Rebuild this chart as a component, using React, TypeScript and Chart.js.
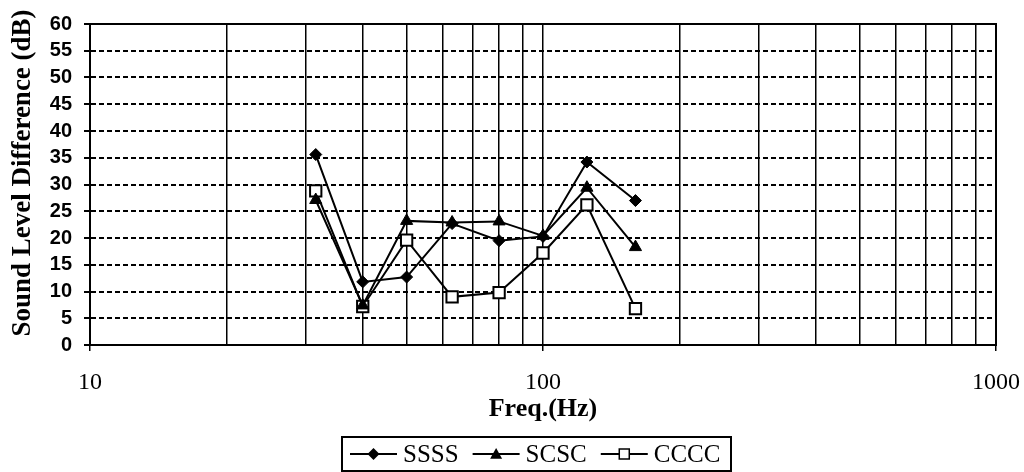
import React, { useEffect, useRef } from "react";
import { Chart, registerables } from "chart.js";

Chart.register(...registerables);

const frequencies = [31.5, 40, 50, 63, 80, 100, 125, 160];
const seriesNames = ["SSSS", "SCSC", "CCCC"];
const ssssValues = [35.6, 11.8, 12.7, 22.7, 19.5, 20.3, 34.2, 27.0];
const scscValues = [27.1, 7.4, 23.2, 22.9, 23.1, 20.4, 29.4, 18.3];
const ccccValues = [28.8, 7.2, 19.6, 9.0, 9.8, 17.2, 26.2, 6.8];
const xGridValues = [10, 20, 30, 40, 50, 60, 70, 80, 90, 100, 200, 300, 400, 500, 600, 700, 800, 900, 1000];
const xLabeledTicks = [10, 100, 1000];
const yTickValues = [0, 5, 10, 15, 20, 25, 30, 35, 40, 45, 50, 55, 60];
const xTitle = "Freq.(Hz)";
const yTitle = "Sound Level Difference (dB)";

const SERIF = '"Liberation Serif", "Times New Roman", serif';
const SANS = '"Liberation Sans", Arial, sans-serif';

function drawMarker(ctx: CanvasRenderingContext2D, style: string, x: number, y: number) {
  ctx.save();
  ctx.lineWidth = 1.5;
  ctx.strokeStyle = "#000";
  ctx.setLineDash([]);
  if (style === "rectRot") {
    const r = 6;
    ctx.fillStyle = "#000";
    ctx.beginPath();
    ctx.moveTo(x, y - r);
    ctx.lineTo(x + r, y);
    ctx.lineTo(x, y + r);
    ctx.lineTo(x - r, y);
    ctx.closePath();
    ctx.fill();
  } else if (style === "triangle") {
    const r = 6;
    ctx.fillStyle = "#000";
    ctx.beginPath();
    ctx.moveTo(x, y - r);
    ctx.lineTo(x + r, y + r * 0.8);
    ctx.lineTo(x - r, y + r * 0.8);
    ctx.closePath();
    ctx.fill();
  } else {
    const s = 10;
    ctx.fillStyle = "#fff";
    ctx.fillRect(x - s / 2, y - s / 2, s, s);
    ctx.strokeRect(x - s / 2, y - s / 2, s, s);
  }
  ctx.restore();
}

const frameAndLegend = {
  id: "frameAndLegend",
  afterDraw(chart: any) {
    const { ctx, chartArea } = chart;
    ctx.save();
    ctx.setLineDash([]);
    ctx.strokeStyle = "#000";
    ctx.lineWidth = 2;
    ctx.strokeRect(chartArea.left, chartArea.top, chartArea.right - chartArea.left, chartArea.bottom - chartArea.top);

    // y-axis title
    ctx.save();
    ctx.translate(23, 173);
    ctx.rotate(-Math.PI / 2);
    ctx.font = `bold 27px ${SERIF}`;
    ctx.fillStyle = "#000";
    ctx.textAlign = "center";
    ctx.textBaseline = "middle";
    ctx.fillText(yTitle, 0, 0);
    ctx.restore();

    // legend
    const boxL = 342, boxT = 437, boxR = 731, boxB = 471;
    ctx.strokeRect(boxL, boxT, boxR - boxL, boxB - boxT);
    ctx.font = `25px ${SERIF}`;
    ctx.fillStyle = "#000";
    ctx.textBaseline = "middle";
    ctx.textAlign = "left";
    const cy = (boxT + boxB) / 2;
    let x = boxL + 8;
    chart.data.datasets.forEach((ds: any) => {
      const lineLen = 47;
      ctx.lineWidth = 2;
      ctx.beginPath();
      ctx.moveTo(x, cy);
      ctx.lineTo(x + lineLen, cy);
      ctx.stroke();
      drawMarker(ctx, ds.pointStyle, x + lineLen / 2, cy);
      const tx = x + lineLen + 6;
      ctx.fillText(ds.label, tx, cy + 1);
      x = tx + ctx.measureText(ds.label).width + 14;
    });
    ctx.restore();
  },
};

export default function App() {
  const canvasRef = useRef<HTMLCanvasElement | null>(null);

  useEffect(() => {
    if (!canvasRef.current) return;
    const mk = (vals: number[]) => frequencies.map((f, i) => ({ x: f, y: vals[i] }));
    const chart = new Chart(canvasRef.current, {
      type: "line",
      data: {
        datasets: [
          {
            label: seriesNames[0],
            data: mk(ssssValues),
            borderColor: "#000",
            borderWidth: 2,
            pointStyle: "rectRot",
            pointRadius: 6,
            pointBackgroundColor: "#000",
            pointBorderColor: "#000",
            pointBorderWidth: 1,
            tension: 0,
          },
          {
            label: seriesNames[1],
            data: mk(scscValues),
            borderColor: "#000",
            borderWidth: 2,
            pointStyle: "triangle",
            pointRadius: 7,
            pointBackgroundColor: "#000",
            pointBorderColor: "#000",
            pointBorderWidth: 1,
            tension: 0,
          },
          {
            label: seriesNames[2],
            data: mk(ccccValues),
            borderColor: "#000",
            borderWidth: 2,
            pointStyle: "rect",
            pointRadius: 8,
            pointBackgroundColor: "#fff",
            pointBorderColor: "#000",
            pointBorderWidth: 2,
            tension: 0,
          },
        ],
      },
      options: {
        animation: false,
        responsive: true,
        maintainAspectRatio: false,
        layout: { padding: { left: 9, top: 22, right: 28, bottom: 47 } },
        plugins: {
          legend: { display: false },
          tooltip: { enabled: false },
        },
        scales: {
          x: {
            type: "logarithmic",
            min: 10,
            max: 1000,
            afterBuildTicks: (scale: any) => {
              scale.ticks = xGridValues.map((v) => ({ value: v }));
            },
            afterFit: (scale: any) => {
              scale.height = 80;
              scale.paddingLeft = 0;
              scale.paddingRight = 0;
            },
            ticks: {
              autoSkip: false,
              maxRotation: 0,
              padding: 17,
              color: "#000",
              font: { family: SERIF, size: 24 },
              callback: (value: any) => (xLabeledTicks.includes(Number(value)) ? String(value) : ""),
            },
            grid: {
              color: "#000",
              lineWidth: 1.5,
              tickLength: 6,
              tickColor: (c: any) =>
                c.tick && xLabeledTicks.includes(c.tick.value) ? "#000" : "rgba(0,0,0,0)",
            },
            border: { display: true, color: "#000", width: 2 },
            title: {
              display: true,
              text: xTitle,
              color: "#000",
              padding: 0,
              font: { family: SERIF, size: 26, weight: "bold" },
            },
          },
          y: {
            type: "linear",
            min: yTickValues[0],
            max: yTickValues[yTickValues.length - 1],
            afterBuildTicks: (scale: any) => {
              scale.ticks = yTickValues.map((v) => ({ value: v }));
            },
            afterFit: (scale: any) => {
              scale.width = 81;
            },
            ticks: {
              autoSkip: false,
              padding: 12,
              color: "#000",
              font: { family: SANS, size: 20, weight: "bold" },
            },
            grid: {
              color: "#000",
              lineWidth: 2,
              tickLength: 6,
              tickColor: "#000",
              tickBorderDash: [],
            },
            border: { display: true, color: "#000", width: 2, dash: [5, 3] },
            title: { display: false },
          },
        },
      },
      plugins: [frameAndLegend],
    } as any);
    return () => chart.destroy();
  }, []);

  return (
    <div style={{ position: "absolute", left: 0, top: 0, width: 1024, height: 472, background: "#fff" }}>
      <canvas ref={canvasRef} />
    </div>
  );
}
